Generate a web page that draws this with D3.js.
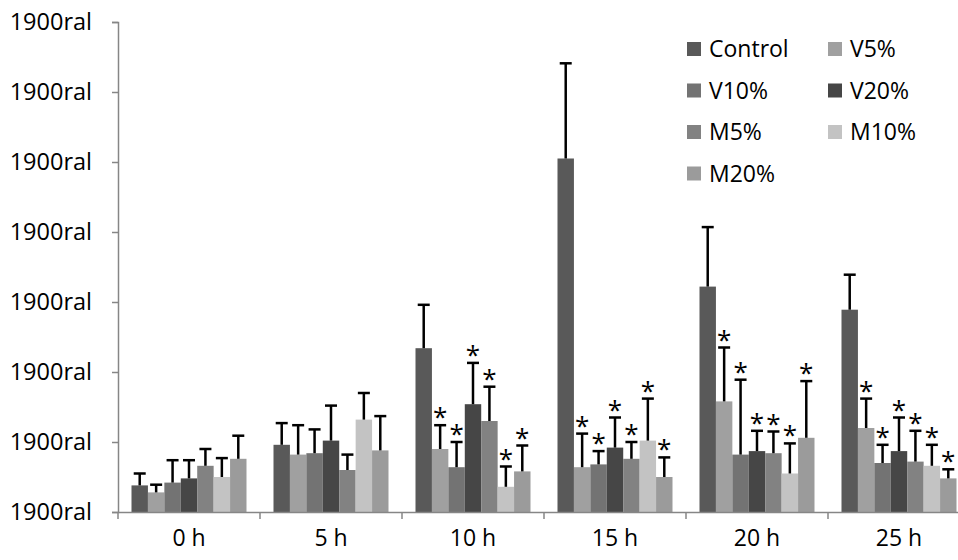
<!DOCTYPE html>
<html>
<head>
<meta charset="utf-8">
<script src="https://cdn.jsdelivr.net/npm/d3@7.9.0/dist/d3.min.js"></script>
<style>
  body { margin: 0; background: #fff; }
  svg text { font-family: "Open Sans", sans-serif; }
</style>
</head>
<body>
<div id="chart"></div>
<script>
const groups = ['0 h', '5 h', '10 h', '15 h', '20 h', '25 h'];
const series = ['Control', 'V5%', 'V10%', 'V20%', 'M5%', 'M10%', 'M20%'];
const colors = ['#595959', '#a0a0a0', '#737373', '#464646', '#828282', '#c3c3c3', '#9b9b9b'];

// means per series, one value per time point
const means = {
  'Control': [0.38, 0.96, 2.34, 5.05, 3.22, 2.89],
  'V5%':     [0.28, 0.82, 0.90, 0.64, 1.58, 1.20],
  'V10%':    [0.42, 0.84, 0.64, 0.68, 0.82, 0.70],
  'V20%':    [0.48, 1.02, 1.54, 0.92, 0.87, 0.87],
  'M5%':     [0.66, 0.60, 1.30, 0.76, 0.84, 0.72],
  'M10%':    [0.50, 1.32, 0.36, 1.02, 0.55, 0.66],
  'M20%':    [0.76, 0.88, 0.58, 0.50, 1.06, 0.48]
};
// error bar heights
const errors = {
  'Control': [0.17, 0.31, 0.62, 1.36, 0.85, 0.50],
  'V5%':     [0.11, 0.42, 0.34, 0.48, 0.77, 0.42],
  'V10%':    [0.32, 0.34, 0.36, 0.19, 1.07, 0.26],
  'V20%':    [0.26, 0.50, 0.59, 0.43, 0.29, 0.48],
  'M5%':     [0.24, 0.22, 0.49, 0.24, 0.31, 0.44],
  'M10%':    [0.27, 0.38, 0.29, 0.60, 0.43, 0.30],
  'M20%':    [0.33, 0.49, 0.37, 0.28, 0.81, 0.13]
};
// significance marks (*) per series and time point
const stars = {
  'Control': [0, 0, 0, 0, 0, 0],
  'V5%':     [0, 0, 1, 1, 1, 1],
  'V10%':    [0, 0, 1, 1, 1, 1],
  'V20%':    [0, 0, 1, 1, 1, 1],
  'M5%':     [0, 0, 1, 1, 1, 1],
  'M10%':    [0, 0, 1, 1, 1, 1],
  'M20%':    [0, 0, 1, 1, 1, 1]
};
const yTicks = [0, 1, 2, 3, 4, 5, 6, 7];
const yTickLabel = '1900ral';

const width = 958;
const height = 560;
const margin = { top: 22, left: 118, bottom: 48 };
const axisColor = '#868686';

const svg = d3.select('#chart')
  .append('svg')
  .attr('width', width)
  .attr('height', height);

const x = d3.scaleBand()
  .domain(groups)
  .range([margin.left, margin.left + 142 * groups.length]);

const xInner = d3.scaleBand()
  .domain(series)
  .range([13.5, x.bandwidth() - 13.5]);

const y = d3.scaleLinear()
  .domain([0, 7])
  .range([height - margin.bottom, margin.top]);

const color = d3.scaleOrdinal().domain(series).range(colors);

// bars
const rows = [];
groups.forEach((g, gi) => {
  series.forEach(s => {
    rows.push({ g, s, v: means[s][gi], e: errors[s][gi], star: stars[s][gi] });
  });
});

svg.append('g')
  .selectAll('rect')
  .data(rows)
  .join('rect')
  .attr('x', d => x(d.g) + xInner(d.s))
  .attr('y', d => y(d.v))
  .attr('width', xInner.bandwidth())
  .attr('height', d => y(0) - y(d.v))
  .attr('fill', d => color(d.s));

// error bars
const err = svg.append('g')
  .attr('stroke', '#000')
  .attr('stroke-width', 2.5);

rows.forEach(d => {
  const cx = x(d.g) + xInner(d.s) + xInner.bandwidth() / 2;
  err.append('line')
    .attr('x1', cx).attr('x2', cx)
    .attr('y1', y(d.v)).attr('y2', y(d.v + d.e));
  err.append('line')
    .attr('x1', cx - 6).attr('x2', cx + 6)
    .attr('y1', y(d.v + d.e)).attr('y2', y(d.v + d.e));
});

// stars
svg.append('g')
  .selectAll('text')
  .data(rows.filter(d => d.star))
  .join('text')
  .attr('x', d => x(d.g) + xInner(d.s) + xInner.bandwidth() / 2)
  .attr('y', d => y(d.v + d.e) + 1)
  .attr('text-anchor', 'middle')
  .attr('font-size', 26)
  .attr('fill', '#000')
  .text('*');

// y axis
const yAxis = svg.append('g')
  .attr('transform', `translate(${margin.left},0)`)
  .call(d3.axisLeft(y).tickValues(yTicks).tickSize(6).tickPadding(20).tickFormat(() => yTickLabel));
yAxis.select('.domain').attr('stroke', axisColor).attr('stroke-width', 1.5);
yAxis.selectAll('.tick line').attr('stroke', axisColor).attr('stroke-width', 1.5);
yAxis.selectAll('.tick text')
  .attr('font-size', 23.5)
  .attr('fill', '#000')
  .style('font-family', '"Open Sans", sans-serif');

// x axis: labels centred in groups, ticks at group edges
const xAxis = svg.append('g')
  .attr('transform', `translate(0,${y(0)})`)
  .call(d3.axisBottom(x).tickSize(0).tickPadding(18));
xAxis.select('.domain').attr('stroke', axisColor).attr('stroke-width', 1.5);
xAxis.selectAll('.tick text')
  .attr('font-size', 23)
  .attr('fill', '#000')
  .style('font-family', '"Open Sans", sans-serif');

const edges = groups.map(g => x(g)).concat([x(groups[groups.length - 1]) + x.bandwidth()]);
xAxis.selectAll('.edge')
  .data(edges)
  .join('line')
  .attr('class', 'edge')
  .attr('x1', d => d).attr('x2', d => d)
  .attr('y1', 0).attr('y2', 7)
  .attr('stroke', axisColor)
  .attr('stroke-width', 1.5);

// legend
const legend = svg.append('g');
series.forEach((s, i) => {
  const col = i % 2;
  const row = Math.floor(i / 2);
  const lx = 687 + col * 141;
  const ly = 49 + row * 41.5;
  legend.append('rect')
    .attr('x', lx).attr('y', ly - 7)
    .attr('width', 14).attr('height', 14)
    .attr('fill', color(s));
  legend.append('text')
    .attr('x', lx + 22).attr('y', ly)
    .attr('dy', '0.35em')
    .attr('font-size', 23)
    .attr('fill', '#000')
    .text(s);
});
</script>
</body>
</html>
